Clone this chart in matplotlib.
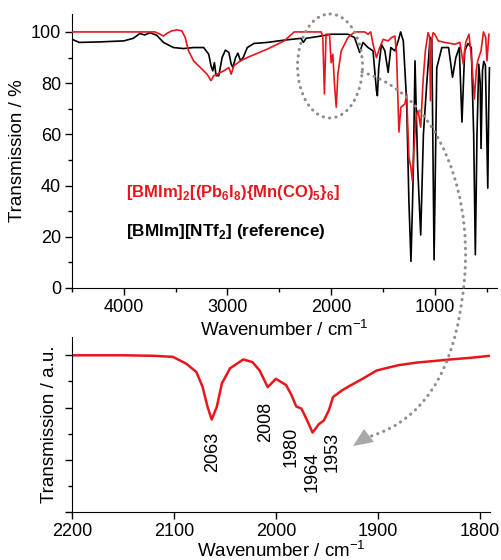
import numpy as np
import matplotlib
matplotlib.use("Agg")
import matplotlib.pyplot as plt
from matplotlib.patches import Ellipse, Polygon
from matplotlib.path import Path
from matplotlib.patches import PathPatch
from matplotlib.ticker import MultipleLocator, NullFormatter

plt.rcParams['font.family'] = ['Liberation Sans', 'DejaVu Sans']
plt.rcParams['mathtext.fontset'] = 'custom'
plt.rcParams['mathtext.rm'] = 'Liberation Sans'
plt.rcParams['mathtext.bf'] = 'Liberation Sans:bold'

# ---------------- data ----------------
ref_wn = [4505, 4430, 4233, 4000, 3909, 3845, 3800, 3748, 3683, 3618, 3521, 3424,
          3327, 3230, 3181, 3159, 3142, 3126, 3110, 3084, 3052, 3020, 2987, 2964,
          2948, 2922, 2900, 2874, 2848, 2809, 2744, 2615, 2453, 2291, 2268, 2242,
          2097, 2000, 1838, 1774, 1725, 1693, 1644, 1596, 1563, 1554, 1541, 1515,
          1482, 1450, 1424, 1385, 1353, 1330, 1304, 1272, 1250, 1230, 1215, 1207,
          1191, 1165, 1136, 1110, 1078, 1045, 1029, 1007, 981, 932, 867, 829,
          797, 764, 738, 712, 680, 648, 625, 609, 593, 576, 562, 554, 540, 528,
          512, 499, 489, 480, 473]
ref_T = [97.2, 95.9, 96.1, 96.5, 97.5, 99.4, 98.8, 99.7, 98.7, 95.9, 93.9, 93.5,
         93.9, 93.9, 91.3, 86.8, 84.8, 88.0, 82.9, 82.9, 90.0, 92.9, 92.0, 87.4,
         86.1, 90.0, 91.7, 88.7, 90.0, 93.9, 95.5, 95.9, 96.8, 97.5, 95.9, 97.5,
         98.4, 99.1, 99.1, 97.8, 92.0, 95.9, 93.9, 92.6, 77.1, 75.1, 86.0, 95.2,
         92.6, 84.2, 93.9, 92.6, 96.5, 100.0, 96.5, 73.0, 34.0, 10.4, 33.0, 47.0,
         88.7, 47.0, 20.7, 60.0, 79.7, 97.8, 97.0, 11.0, 86.0, 93.9, 93.9, 82.3,
         90.0, 93.9, 64.8, 92.6, 95.5, 93.9, 60.0, 13.0, 60.0, 87.4, 80.0, 54.5,
         85.0, 88.5, 87.0, 60.0, 39.0, 70.0, 86.0]

cpd_wn = [4505, 3700, 3650, 3618, 3586, 3537, 3489, 3440, 3408, 3376, 3327, 3262,
          3197, 3159, 3133, 3100, 3036, 2987, 2964, 2939, 2874, 2809, 2615, 2453,
          2356, 2097, 2081, 2065, 2049, 2016, 2000, 1984, 1968, 1951, 1935, 1903,
          1838, 1774, 1677, 1644, 1618, 1596, 1563, 1531, 1499, 1450, 1418, 1385,
          1369, 1346, 1327, 1288, 1272, 1250, 1230, 1217, 1200, 1180, 1162, 1136,
          1113, 1091, 1065, 1050, 1042, 1030, 1016, 1000, 967, 903, 806, 758,
          725, 702, 670, 644, 618, 600, 586, 554, 531, 509, 497, 478]
cpd_T = [100.0, 100.0, 99.1, 98.4, 99.4, 100.4, 100.8, 100.4, 97.8, 92.6, 88.7, 86.1,
         83.5, 81.0, 82.9, 83.5, 84.8, 86.1, 83.5, 86.8, 88.7, 90.0, 93.3, 96.5,
         100.0, 100.0, 98.4, 75.8, 99.1, 99.1, 88.0, 91.3, 79.7, 70.6, 83.5, 92.6,
         97.8, 100.0, 100.0, 99.1, 100.0, 95.2, 90.0, 93.9, 97.1, 96.5, 97.8, 98.4,
         91.3, 60.9, 70.6, 71.9, 75.8, 51.2, 47.0, 42.0, 55.0, 67.0, 69.3, 62.8,
         81.0, 92.6, 99.7, 98.0, 73.2, 97.0, 99.7, 99.1, 96.5, 95.9, 95.2, 95.9,
         87.4, 95.9, 99.1, 88.7, 73.8, 85.0, 88.7, 92.6, 100.0, 97.8, 88.7, 99.1]

co_wn = [2200, 2150, 2120, 2101, 2088, 2078, 2072, 2067, 2063, 2058, 2053, 2045,
         2032, 2023, 2016, 2013, 2008, 2000, 1990, 1985, 1980, 1975, 1970, 1964,
         1958, 1953, 1948, 1944, 1935, 1928, 1915, 1901, 1880, 1862, 1845, 1829,
         1810, 1790]
co_T = [3.0, 3.0, 2.99, 2.97, 2.84, 2.68, 2.4, 2.01, 1.77, 2.01, 2.46, 2.75,
        2.92, 2.87, 2.71, 2.59, 2.39, 2.55, 2.43, 2.25, 2.02, 1.98, 1.78, 1.52,
        1.68, 1.75, 1.95, 2.2, 2.33, 2.41, 2.55, 2.71, 2.81, 2.86, 2.89, 2.92,
        2.95, 2.99]

peak_labels = ["2063", "2008", "1980", "1964", "1953"]
peak_label_x = [2062, 2010, 1985, 1964, 1945]
peak_label_y = [1.54, 2.11, 1.63, 1.15, 1.54]

RED = '#e8161c'

fig = plt.figure(figsize=(5.01, 5.60), dpi=100)
W, H = 501, 560

def pos(l, r, t, b):
    return [l / W, 1 - b / H, (r - l) / W, (b - t) / H]

# ---------------- top panel ----------------
ax1 = fig.add_axes(pos(72, 497, 14, 288))
ax1.plot(ref_wn, ref_T, color='black', lw=1.2, zorder=3)
ax1.plot(cpd_wn, cpd_T, color=RED, lw=1.2, zorder=4)
ax1.set_xlim(4500, 400)
ax1.set_ylim(0, 107)
ax1.xaxis.set_major_locator(MultipleLocator(1000))
ax1.xaxis.set_minor_locator(MultipleLocator(500))
ax1.yaxis.set_major_locator(MultipleLocator(20))
ax1.yaxis.set_minor_locator(MultipleLocator(10))
for s in ['top', 'right']:
    ax1.spines[s].set_visible(False)
ax1.tick_params(which='major', direction='out', length=5, width=1, labelsize=13, pad=3)
ax1.tick_params(which='minor', direction='out', length=3, width=1)
ax1.set_xlabel('Wavenumber / cm$^{-1}$', fontsize=13.5, labelpad=2)
ax1.set_ylabel('Transmission / %', fontsize=13.5, labelpad=3)

ax1.text(0.128, 0.35, r'[BMIm]$_\mathbf{2}$[(Pb$_\mathbf{6}$I$_\mathbf{8}$){Mn(CO)$_\mathbf{5}$}$_\mathbf{6}$]',
         transform=ax1.transAxes, color=RED, fontsize=12, fontweight='bold', va='center')
ax1.text(0.128, 0.205, r'[BMIm][NTf$_\mathbf{2}$] (reference)',
         transform=ax1.transAxes, color='black', fontsize=12.3, fontweight='bold', va='center')

# ---------------- bottom panel ----------------
ax2 = fig.add_axes(pos(72, 490, 337, 512))
ax2.plot(co_wn, co_T, color=RED, lw=1.8)
ax2.set_xlim(2200, 1790)
ax2.set_ylim(0, 3.35)
ax2.xaxis.set_major_locator(MultipleLocator(100))
ax2.yaxis.set_major_locator(MultipleLocator(1))
ax2.yaxis.set_minor_locator(MultipleLocator(0.5))
ax2.yaxis.set_major_formatter(NullFormatter())
for s in ['top', 'right']:
    ax2.spines[s].set_visible(False)
ax2.tick_params(which='major', direction='out', length=5, width=1, labelsize=13, pad=3)
ax2.tick_params(which='minor', direction='out', length=3, width=1)
ax2.set_xlabel('Wavenumber / cm$^{-1}$', fontsize=13.5, labelpad=0)
ax2.set_ylabel('Transmission / a.u.', fontsize=13.5, labelpad=2)
for lab, x, y in zip(peak_labels, peak_label_x, peak_label_y):
    ax2.text(x, y, lab, rotation=90, ha='center', va='top', fontsize=13)

# ---------------- annotation overlay (ellipse + curved arrow) ----------------
ov = fig.add_axes([0, 0, 1, 1], zorder=10)
ov.set_xlim(0, W)
ov.set_ylim(H, 0)
ov.axis('off')
ov.patch.set_alpha(0)
GRAY = '#8e8e8e'
dot_ls = (0, (0.1, 2.0))
ell = Ellipse((330, 66), 65, 104, fill=False, edgecolor=GRAY, lw=2.2,
              linestyle=dot_ls, capstyle='round')
ov.add_patch(ell)
verts = [(362, 72), (440, 95), (478, 200), (462, 300),
         (450, 390), (410, 425), (368, 437)]
codes = [Path.MOVETO, Path.CURVE4, Path.CURVE4, Path.CURVE4,
         Path.CURVE4, Path.CURVE4, Path.CURVE4]
pp = PathPatch(Path(verts, codes), fill=False, edgecolor=GRAY, lw=2.2,
               linestyle=dot_ls, capstyle='round')
ov.add_patch(pp)
ov.add_patch(Polygon([(353, 446), (364, 429), (374, 442)], closed=True,
                     facecolor='#a8a8a8', edgecolor='none'))

fig.savefig('out.png', dpi=100)
